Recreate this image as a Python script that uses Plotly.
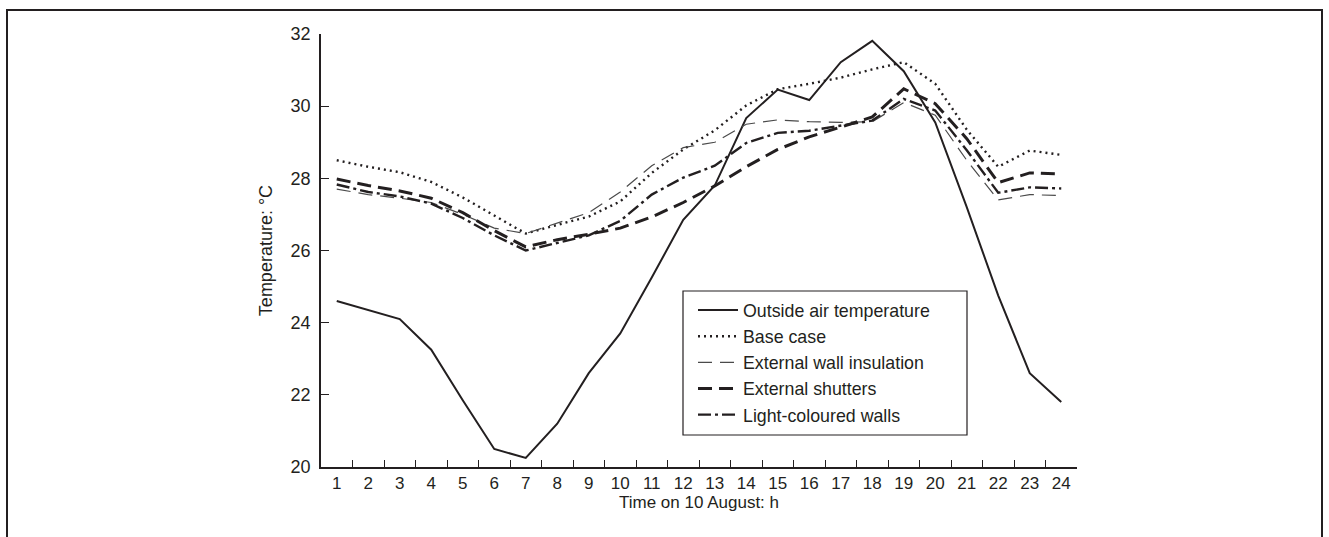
import plotly.graph_objects as go

hours = [str(h) for h in range(1, 25)]

outside_air = [24.6, 24.35, 24.1, 23.25, 21.85, 20.5, 20.25, 21.2, 22.6, 23.7, 25.25, 26.85,
               27.8, 29.67, 30.46, 30.17, 31.22, 31.81, 30.97, 29.55, 27.2, 24.75, 22.6, 21.8]
base_case = [28.5, 28.32, 28.17, 27.9, 27.47, 26.97, 26.47, 26.71, 26.94, 27.36, 28.15, 28.8,
             29.33, 30.02, 30.47, 30.62, 30.79, 31.02, 31.22, 30.62, 29.35, 28.32, 28.77, 28.65]
wall_insulation = [27.7, 27.55, 27.45, 27.33, 27.0, 26.62, 26.47, 26.76, 27.05, 27.62, 28.35, 28.85,
                   29.0, 29.5, 29.62, 29.57, 29.55, 29.57, 30.1, 29.75, 28.5, 27.4, 27.55, 27.52]
shutters = [27.98, 27.8, 27.65, 27.45, 27.05, 26.55, 26.1, 26.3, 26.45, 26.62, 26.93, 27.33,
            27.79, 28.32, 28.8, 29.15, 29.42, 29.7, 30.48, 30.07, 29.1, 27.88, 28.15, 28.12]
light_walls = [27.83, 27.62, 27.5, 27.3, 26.9, 26.42, 26.0, 26.22, 26.42, 26.82, 27.55, 28.02,
               28.35, 28.98, 29.26, 29.32, 29.47, 29.6, 30.2, 29.88, 28.78, 27.6, 27.75, 27.72]

INK = "#231f20"

series = [
    ("Outside air temperature", outside_air, dict(color=INK, width=2, dash="solid")),
    ("Base case", base_case, dict(color=INK, width=2.4, dash="2px,4px")),
    ("External wall insulation", wall_insulation, dict(color="#4a4a4a", width=1.2, dash="14px,8px")),
    ("External shutters", shutters, dict(color=INK, width=3, dash="14px,7px")),
    ("Light-coloured walls", light_walls, dict(color=INK, width=2.4, dash="13px,4px,3px,4px")),
]

fig = go.Figure()
for i, (name, vals, line) in enumerate(series):
    fig.add_trace(go.Scatter(x=hours, y=vals, mode="lines", name=name, line=line,
                             legendgroup=f"g{i}"))

L, R, T, B = 321, 1077, 34, 467
W, H = 1329, 537

def px_x(p):
    return (p - L) / (R - L)

def px_y(p):
    return (B - p) / (B - T)

fig.update_layout(
    width=W, height=H,
    margin=dict(l=L, r=W - R, t=T, b=H - B),
    paper_bgcolor="white", plot_bgcolor="white",
    font=dict(family="Liberation Sans, Arial, sans-serif", size=18, color=INK),
    showlegend=True,
    legend=dict(
        x=px_x(693), y=px_y(292), xanchor="left", yanchor="top",
        borderwidth=0, bgcolor="rgba(0,0,0,0)",
        font=dict(size=17.8, color=INK), tracegroupgap=0,
        itemwidth=40,
    ),
    xaxis=dict(
        type="category", range=[-0.5, 23.5], tickson="boundaries",
        ticks="inside", ticklen=7, tickcolor=INK, tickwidth=1.2,
        showline=True, linecolor=INK, linewidth=1.5,
        showgrid=False, zeroline=False,
        title=dict(text="Time on 10 August: h", standoff=0, font=dict(size=17)),
        tickfont=dict(size=17),
    ),
    yaxis=dict(
        range=[20, 32], dtick=2, ticks="inside", ticklen=8, tickcolor=INK, tickwidth=1.2,
        showline=True, linecolor=INK, linewidth=1.5,
        showgrid=False, zeroline=False,
        title=dict(text="Temperature: °C", standoff=13, font=dict(size=18)),
        tickfont=dict(size=18), ticklabelstandoff=5,
    ),
    shapes=[
        dict(type="rect", xref="paper", yref="paper",
             x0=px_x(7), x1=px_x(1322), y0=px_y(560), y1=px_y(10),
             line=dict(color=INK, width=2), fillcolor="rgba(0,0,0,0)", layer="below"),
        dict(type="rect", xref="paper", yref="paper",
             x0=px_x(683), x1=px_x(967), y0=px_y(435), y1=px_y(291),
             line=dict(color=INK, width=1.2), fillcolor="white", layer="below"),
    ],
)

fig.write_html(
    "out.html",
    config={"displayModeBar": False},
    post_script="document.body.style.margin='0px';document.body.style.overflow='hidden';",
)
